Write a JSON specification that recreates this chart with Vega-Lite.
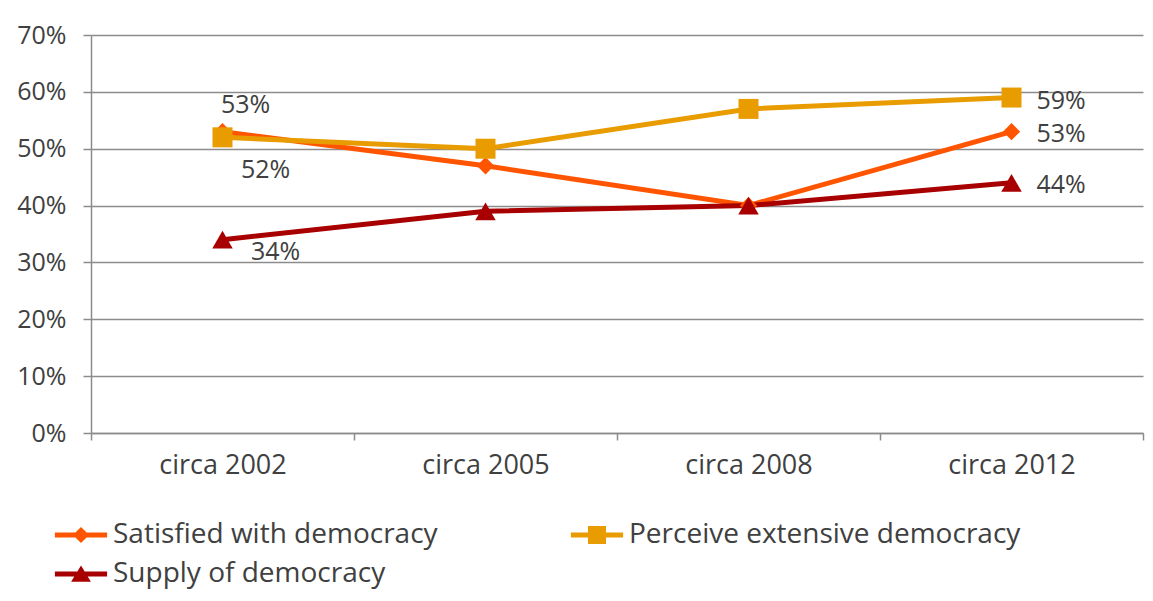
{
  "$schema": "https://vega.github.io/schema/vega-lite/v6.json",
  "width": 1052,
  "height": 398,
  "autosize": {"type": "none"},
  "padding": {"left": 91, "top": 35, "right": 10, "bottom": 168},
  "background": "#ffffff",
  "config": {
    "view": {"stroke": null},
    "font": "Open Sans",
    "axis": {
      "labelFont": "Open Sans",
      "labelColor": "#404040",
      "domainColor": "#8c8c8c",
      "domainWidth": 1.5,
      "tickColor": "#8c8c8c",
      "tickWidth": 1.5,
      "gridColor": "#8c8c8c",
      "gridWidth": 1.5,
      "title": null
    },
    "legend": {
      "labelFont": "Open Sans",
      "labelFontSize": 28,
      "labelColor": "#404040",
      "labelLimit": 600,
      "symbolStrokeWidth": 0
    }
  },
  "data": {
    "values": [
      {"year": "circa 2002", "series": "Satisfied with democracy", "value": 0.53},
      {"year": "circa 2005", "series": "Satisfied with democracy", "value": 0.47},
      {"year": "circa 2008", "series": "Satisfied with democracy", "value": 0.40},
      {"year": "circa 2012", "series": "Satisfied with democracy", "value": 0.53},
      {"year": "circa 2002", "series": "Perceive extensive democracy", "value": 0.52},
      {"year": "circa 2005", "series": "Perceive extensive democracy", "value": 0.50},
      {"year": "circa 2008", "series": "Perceive extensive democracy", "value": 0.57},
      {"year": "circa 2012", "series": "Perceive extensive democracy", "value": 0.59},
      {"year": "circa 2002", "series": "Supply of democracy", "value": 0.34},
      {"year": "circa 2005", "series": "Supply of democracy", "value": 0.39},
      {"year": "circa 2008", "series": "Supply of democracy", "value": 0.40},
      {"year": "circa 2012", "series": "Supply of democracy", "value": 0.44}
    ]
  },
  "encoding": {
    "x": {
      "field": "year",
      "type": "nominal",
      "scale": {"paddingInner": 0, "paddingOuter": 0},
      "axis": {
        "labelAngle": 0,
        "labelFontSize": 27,
        "labelPadding": 12,
        "tickBand": "extent",
        "tickSize": 7,
        "grid": false
      }
    },
    "y": {
      "field": "value",
      "type": "quantitative",
      "scale": {"domain": [0, 0.7], "nice": false},
      "axis": {
        "values": [0, 0.1, 0.2, 0.3, 0.4, 0.5, 0.6, 0.7],
        "format": ".0%",
        "labelFontSize": 25,
        "labelPadding": 17,
        "tickSize": 8,
        "grid": true
      }
    },
    "color": {
      "field": "series",
      "type": "nominal",
      "scale": {
        "domain": ["Satisfied with democracy", "Perceive extensive democracy", "Supply of democracy"],
        "range": ["#ff5500", "#e89c00", "#a80000"]
      },
      "legend": null
    }
  },
  "resolve": {"legend": {"color": "independent", "shape": "independent"}},
  "layer": [
    {
      "transform": [{"filter": "datum.value < 0"}],
      "mark": {"type": "point", "filled": true, "size": 324, "opacity": 1},
      "encoding": {
        "color": {
          "field": "series",
          "type": "nominal",
          "legend": {
            "title": null,
            "orient": "none",
            "legendX": -24,
            "legendY": 486,
            "columns": 2,
            "direction": "horizontal",
            "columnPadding": 132,
            "rowPadding": 11,
            "labelOffset": 18,
            "symbolSize": 324,
            "padding": 0
          }
        },
        "shape": {
          "field": "series",
          "type": "nominal",
          "scale": {
            "domain": ["Satisfied with democracy", "Perceive extensive democracy", "Supply of democracy"],
            "range": [
              "M-2.9,-0.28H2.9V0.28H-2.9Z M0,-0.9L0.9,0L0,0.9L-0.9,0Z",
              "M-2.9,-0.28H2.9V0.28H-2.9Z M-1,-1H1V1H-1Z",
              "M-2.9,-0.28H2.9V0.28H-2.9Z M0,-0.95L1.1,0.85H-1.1Z"
            ]
          },
          "legend": {
            "title": null,
            "orient": "none",
            "legendX": -24,
            "legendY": 486,
            "columns": 2,
            "direction": "horizontal",
            "columnPadding": 132,
            "rowPadding": 11,
            "labelOffset": 18,
            "symbolSize": 324,
            "padding": 0
          }
        }
      }
    },
    {
      "mark": {"type": "line", "strokeWidth": 5},
      "encoding": {"detail": {"field": "series"}}
    },
    {
      "transform": [{"filter": "datum.series == 'Satisfied with democracy'"}],
      "mark": {"type": "point", "shape": "diamond", "filled": true, "size": 300, "opacity": 1}
    },
    {
      "transform": [{"filter": "datum.series == 'Perceive extensive democracy'"}],
      "mark": {"type": "point", "shape": "square", "filled": true, "size": 400, "opacity": 1}
    },
    {
      "transform": [{"filter": "datum.series == 'Supply of democracy'"}],
      "mark": {"type": "point", "shape": "triangle-up", "filled": true, "size": 420, "opacity": 1}
    },
    {
      "transform": [{"filter": "datum.year == 'circa 2012' && datum.series != 'Perceive extensive democracy'"}],
      "mark": {"type": "text", "align": "left", "baseline": "middle", "dx": 25, "dy": 2, "fontSize": 25},
      "encoding": {"text": {"field": "value", "type": "quantitative", "format": ".0%"}, "color": {"value": "#404040"}}
    },
    {
      "transform": [{"filter": "datum.year == 'circa 2012' && datum.series == 'Perceive extensive democracy'"}],
      "mark": {"type": "text", "align": "left", "baseline": "middle", "dx": 25, "dy": 3, "fontSize": 25},
      "encoding": {"text": {"field": "value", "type": "quantitative", "format": ".0%"}, "color": {"value": "#404040"}}
    },
    {
      "transform": [{"filter": "datum.year == 'circa 2002' && datum.series == 'Satisfied with democracy'"}],
      "mark": {"type": "text", "align": "center", "baseline": "middle", "dx": 23, "dy": -27, "fontSize": 25},
      "encoding": {"text": {"field": "value", "type": "quantitative", "format": ".0%"}, "color": {"value": "#404040"}}
    },
    {
      "transform": [{"filter": "datum.year == 'circa 2002' && datum.series == 'Perceive extensive democracy'"}],
      "mark": {"type": "text", "align": "center", "baseline": "middle", "dx": 43, "dy": 33, "fontSize": 25},
      "encoding": {"text": {"field": "value", "type": "quantitative", "format": ".0%"}, "color": {"value": "#404040"}}
    },
    {
      "transform": [{"filter": "datum.year == 'circa 2002' && datum.series == 'Supply of democracy'"}],
      "mark": {"type": "text", "align": "center", "baseline": "middle", "dx": 53, "dy": 12, "fontSize": 25},
      "encoding": {"text": {"field": "value", "type": "quantitative", "format": ".0%"}, "color": {"value": "#404040"}}
    }
  ]
}
